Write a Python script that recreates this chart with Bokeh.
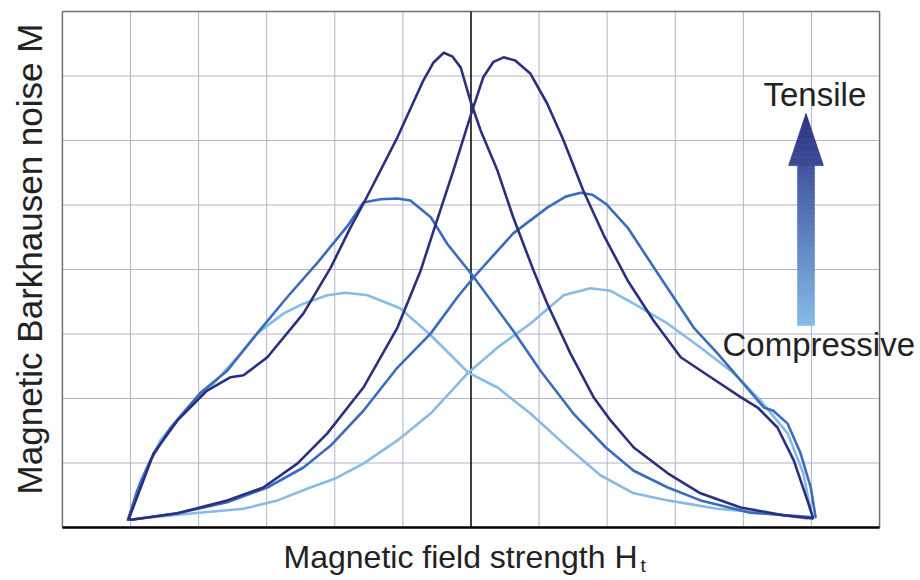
import numpy as np
from bokeh.plotting import figure
from bokeh.models import Range1d, Label
from bokeh.embed import file_html
from bokeh.resources import INLINE

# ---------------- data ----------------
# Tensile (dark): branch with the left peak and branch with the right peak
dark_left_x = [-5.03, -4.85, -4.66, -4.31, -3.88, -3.53, -3.34, -2.99, -2.46, -2.06,
               -1.77, -1.58, -1.08, -0.70, -0.55, -0.40, -0.27, -0.15, -0.01, 0.14,
               0.39, 0.62, 0.92, 1.12, 1.46, 1.80, 2.05, 2.39, 2.89, 3.37,
               3.96, 4.59, 5.02]
dark_left_y = [0.12, 0.62, 1.15, 1.66, 2.12, 2.33, 2.36, 2.64, 3.32, 4.03,
               4.65, 5.02, 6.05, 6.93, 7.21, 7.36, 7.30, 7.13, 6.62, 6.16,
               5.53, 4.81, 3.98, 3.47, 2.70, 2.02, 1.66, 1.24, 0.84, 0.53,
               0.31, 0.19, 0.14]
dark_right_x = [-4.99, -4.31, -3.58, -3.05, -2.55, -2.11, -1.58, -1.08, -0.74, -0.55,
                -0.26, 0.02, 0.18, 0.33, 0.48, 0.65, 0.87, 1.12, 1.36, 1.65,
                1.95, 2.30, 2.68, 3.08, 3.52, 3.96, 4.21, 4.50, 4.74, 4.94, 5.02]
dark_right_y = [0.12, 0.22, 0.42, 0.62, 0.99, 1.46, 2.17, 3.10, 3.98, 4.60,
                5.53, 6.47, 6.98, 7.22, 7.29, 7.24, 7.04, 6.57, 6.00, 5.22,
                4.53, 3.83, 3.21, 2.64, 2.33, 2.02, 1.86, 1.55, 1.04, 0.42, 0.16]

# Intermediate (medium blue)
mid_left_x = [-5.03, -4.90, -4.71, -4.41, -3.98, -3.58, -3.14, -2.70, -2.25, -1.81,
              -1.58, -1.33, -1.08, -0.89, -0.59, -0.35, 0.02, 0.62, 1.02, 1.50,
              1.98, 2.39, 2.89, 3.37, 4.10, 4.99]
mid_left_y = [0.14, 0.57, 1.04, 1.55, 2.08, 2.43, 3.01, 3.57, 4.11, 4.68,
              5.04, 5.09, 5.10, 5.07, 4.81, 4.40, 3.91, 3.05, 2.43, 1.77,
              1.24, 0.88, 0.62, 0.42, 0.23, 0.16]
mid_right_x = [-4.99, -4.31, -3.58, -2.99, -2.46, -2.06, -1.58, -1.08, -0.59, -0.20,
               0.04, 0.62, 1.12, 1.39, 1.61, 1.78, 1.98, 2.30, 2.78, 3.27,
               3.62, 3.96, 4.30, 4.44, 4.65, 4.84, 4.99, 5.06]
mid_right_y = [0.12, 0.22, 0.39, 0.62, 0.93, 1.27, 1.81, 2.48, 3.01, 3.57,
               3.88, 4.56, 4.96, 5.13, 5.19, 5.16, 5.02, 4.65, 3.88, 3.10,
               2.70, 2.28, 1.86, 1.81, 1.61, 1.15, 0.62, 0.16]

# Compressive (light blue)
light_left_x = [-5.04, -4.85, -4.56, -4.16, -3.78, -3.43, -3.14, -2.75, -2.46, -2.11,
                -1.84, -1.52, -1.04, -0.59, -0.04, 0.39, 0.87, 1.36, 1.90, 2.39,
                2.89, 3.62, 4.35, 4.94]
light_left_y = [0.12, 0.73, 1.35, 1.86, 2.23, 2.64, 3.01, 3.32, 3.47, 3.60,
                3.64, 3.60, 3.40, 2.98, 2.40, 2.17, 1.77, 1.30, 0.81, 0.53,
                0.42, 0.29, 0.22, 0.14]
light_right_x = [-5.04, -4.07, -3.34, -2.84, -2.36, -1.99, -1.58, -1.08, -0.59, -0.04,
                 0.39, 0.87, 1.36, 1.75, 2.05, 2.39, 2.89, 3.37, 3.86, 4.25,
                 4.65, 4.88, 4.99]
light_right_y = [0.12, 0.22, 0.29, 0.42, 0.62, 0.76, 0.99, 1.35, 1.77, 2.40,
                 2.79, 3.16, 3.60, 3.71, 3.67, 3.47, 3.16, 2.79, 2.39, 1.97,
                 1.46, 0.84, 0.26]

# grid (unitless field / noise divisions)
x_ticks = [-6, -5, -4, -3, -2, -1, 0, 1, 2, 3, 4, 5, 6]
y_ticks = [0, 1, 2, 3, 4, 5, 6, 7, 8]

x_label = "Magnetic field strength H"
x_label_sub = "t"
y_label = "Magnetic Barkhausen noise M"
top_label = "Tensile"
bottom_label = "Compressive"

# ---------------- styles ----------------
DARK = "#2c2f7f"
MID = "#3b6cbc"
LIGHT = "#86bbe6"
TEXT = "#222222"
GRID = "#b4b4c8"
FRAME = "#707070"
FONT = "Liberation Sans"

W, H = 920, 580
# the plotting box spans x -6..6 and y 0..8; the canvas extends beyond it for the labels
x0, x1 = min(x_ticks), max(x_ticks)
y0, y1 = min(y_ticks), max(y_ticks)
p = figure(width=W, height=H, output_backend="svg", toolbar_location=None,
           x_range=Range1d(-6.909, 6.601), y_range=Range1d(-0.822, 8.171),
           x_axis_location=None, y_axis_location=None, min_border=0)
p.outline_line_color = None
p.xgrid.visible = False
p.ygrid.visible = False
p.background_fill_color = "white"
p.border_fill_color = "white"

inner_x = [t for t in x_ticks if t not in (x0, x1, 0)]
inner_y = [t for t in y_ticks if t not in (y0, y1)]
p.segment(x0=inner_x, y0=[y0] * len(inner_x), x1=inner_x, y1=[y1] * len(inner_x),
          line_color=GRID, line_width=1)
p.segment(x0=[x0] * len(inner_y), y0=inner_y, x1=[x1] * len(inner_y), y1=inner_y,
          line_color=GRID, line_width=1)
# box: left, top, right grey; bottom black; centre line black
p.segment(x0=[x0, x0, x1], y0=[y0, y1, y1], x1=[x0, x1, x1], y1=[y1, y1, y0],
          line_color=FRAME, line_width=1.5)
p.segment(x0=[x0], y0=[y0], x1=[x1], y1=[y0], line_color="black", line_width=2.5)
p.segment(x0=[0], y0=[y0], x1=[0], y1=[y1], line_color="black", line_width=1.5)

for xs, ys, c in [(light_left_x, light_left_y, LIGHT), (light_right_x, light_right_y, LIGHT),
                  (mid_left_x, mid_left_y, MID), (mid_right_x, mid_right_y, MID),
                  (dark_left_x, dark_left_y, DARK), (dark_right_x, dark_right_y, DARK)]:
    p.line(xs, ys, line_color=c, line_width=2.6, line_join="round", line_cap="round")

# ---------------- gradient arrow ----------------
def lerp_color(c0, c1, t):
    a = [int(c0[i:i + 2], 16) for i in (1, 3, 5)]
    b = [int(c1[i:i + 2], 16) for i in (1, 3, 5)]
    return "#%02x%02x%02x" % tuple(int(round(a[k] + (b[k] - a[k]) * t)) for k in range(3))

cx = 4.92
shaft_hw = 0.125
shaft_y0, shaft_y1 = 3.13, 5.61
head_hw = 0.257
tip_y = 6.42
c_bottom, c_mid, c_top = "#86bbe8", "#42559f", "#2e327f"

n = 40
qs = dict(left=[], right=[], bottom=[], top=[], color=[])
for i in range(n):
    ya = shaft_y0 + (shaft_y1 - shaft_y0) * i / n
    yb = shaft_y0 + (shaft_y1 - shaft_y0) * (i + 1) / n
    qs["left"].append(cx - shaft_hw)
    qs["right"].append(cx + shaft_hw)
    qs["bottom"].append(ya)
    qs["top"].append(yb + 0.01)
    qs["color"].append(lerp_color(c_bottom, c_mid, (i + 0.5) / n))
p.quad(left="left", right="right", bottom="bottom", top="top", fill_color="color",
       line_color="color", line_width=0.5, source=qs)

m = 20
hx, hy, hc = [], [], []
for i in range(m):
    t0, t1 = i / m, (i + 1) / m
    ya = shaft_y1 + (tip_y - shaft_y1) * t0
    yb = shaft_y1 + (tip_y - shaft_y1) * t1
    w0 = head_hw * (1 - t0)
    w1 = head_hw * (1 - t1)
    hx.append([cx - w0, cx + w0, cx + w1, cx - w1])
    hy.append([ya, ya, yb + 0.005, yb + 0.005])
    hc.append(lerp_color("#3d4c96", c_top, (i + 0.5) / m))
p.patches(hx, hy, fill_color=hc, line_color=hc, line_width=0.5)

# ---------------- texts ----------------
p.add_layout(Label(x=5.05, y=6.713, text=top_label, text_align="center",
                   text_baseline="alphabetic", text_font=FONT, text_font_size="33px",
                   text_color=TEXT))
p.add_layout(Label(x=3.693, y=2.837, text=bottom_label, text_align="left",
                   text_baseline="alphabetic", text_font=FONT, text_font_size="33px",
                   text_color=TEXT))
p.add_layout(Label(x=2.445, y=-0.465, text=x_label, text_align="right",
                   text_baseline="alphabetic", text_font=FONT, text_font_size="32px",
                   text_color=TEXT))
p.add_layout(Label(x=2.489, y=-0.589, text=x_label_sub, text_align="left",
                   text_baseline="alphabetic", text_font=FONT, text_font_size="19px",
                   text_color=TEXT))
p.add_layout(Label(x=-6.483, y=4.163, text=y_label, text_align="center", angle=np.pi / 2,
                   text_baseline="alphabetic", text_font=FONT, text_font_size="35px",
                   text_color=TEXT))

open("out.html", "w").write(file_html(p, INLINE))
